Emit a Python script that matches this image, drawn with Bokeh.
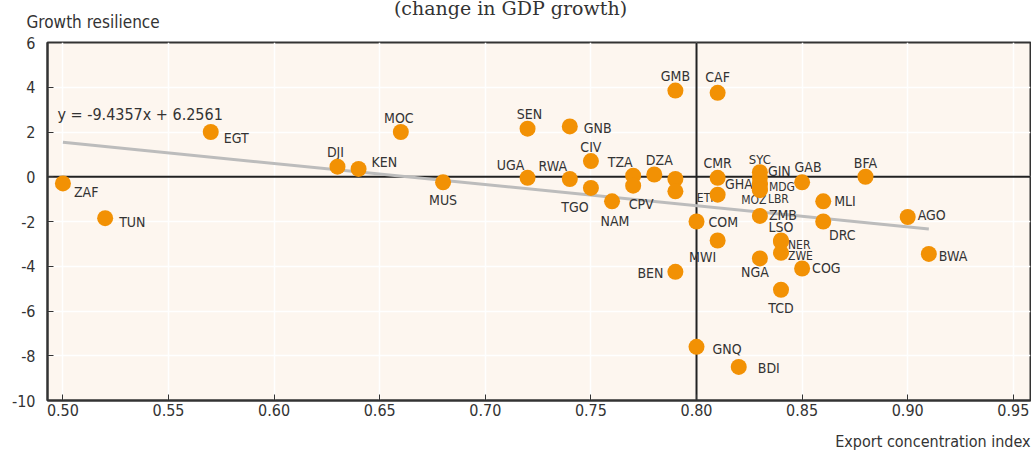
from bokeh.plotting import figure
from bokeh.models import ColumnDataSource, Span, Label, NumeralTickFormatter, FixedTicker, Range1d
from bokeh.core.properties import value
from bokeh.embed import file_html
from bokeh.resources import INLINE

# ---- data ----
countries = ["ZAF", "TUN", "EGT", "DJI", "KEN", "MOC", "MUS", "SEN", "UGA", "GNB",
             "RWA", "CIV", "TGO", "NAM", "TZA", "CPV", "DZA", "", "", "GMB",
             "CAF", "CMR", "ETH", "COM", "MWI", "BEN", "SYC", "GIN", "GHA", "MDG",
             "MOZ", "LBR", "GAB", "BFA", "MLI", "DRC", "AGO", "BWA", "ZMB", "LSO",
             "NER", "ZWE", "NGA", "COG", "TCD", "GNQ", "BDI"]
export_conc = [0.50, 0.52, 0.57, 0.63, 0.64, 0.66, 0.68, 0.72, 0.72, 0.74,
               0.74, 0.75, 0.75, 0.76, 0.77, 0.77, 0.78, 0.79, 0.79, 0.79,
               0.81, 0.81, 0.81, 0.80, 0.81, 0.79, 0.83, 0.83, 0.83, 0.83,
               0.83, 0.83, 0.85, 0.88, 0.86, 0.86, 0.90, 0.91, 0.83, 0.84,
               0.84, 0.84, 0.83, 0.85, 0.84, 0.80, 0.82]
growth_res = [-0.3, -1.85, 2.0, 0.45, 0.35, 2.0, -0.25, 2.15, -0.05, 2.25,
              -0.1, 0.7, -0.5, -1.1, 0.05, -0.4, 0.1, -0.1, -0.65, 3.85,
              3.75, -0.05, -0.8, -2.0, -2.85, -4.25, 0.2, -0.05, -0.3, -0.35,
              -0.55, -0.6, -0.25, 0.0, -1.1, -2.0, -1.8, -3.45, -1.75, -2.85,
              -2.9, -3.4, -3.65, -4.1, -5.05, -7.6, -8.5]
x_ticks = [0.50, 0.55, 0.60, 0.65, 0.70, 0.75, 0.80, 0.85, 0.90, 0.95]
y_ticks = [-10, -8, -6, -4, -2, 0, 2, 4, 6]
trend_slope = -9.4357
trend_intercept = 6.2561
trend_x = [0.50, 0.91]
equation_text = "y = -9.4357x + 6.2561"
title_text = "(change in GDP growth)"
y_title = "Growth resilience"
x_title = "Export concentration index"

# ---- label placement (screen offsets, style only) ----
label_style = {
    "ZAF": (11, 9, "left", 14), "TUN": (14, 4, "left", 14), "EGT": (13, 6, "left", 14),
    "DJI": (-2, -15, "center", 14), "KEN": (13, -7, "left", 14), "MOC": (-2, -14, "center", 14),
    "MUS": (0, 18, "center", 14), "SEN": (2, -15, "center", 14), "UGA": (-17, -13, "center", 14),
    "GNB": (14, 2, "left", 14), "RWA": (-17, -13, "center", 14), "CIV": (0, -14, "center", 14),
    "TGO": (-16, 19, "center", 14), "NAM": (3, 20, "center", 14), "TZA": (-13, -14, "center", 14),
    "CPV": (8, 18, "center", 14), "DZA": (5, -15, "center", 14), "GMB": (0, -15, "center", 14),
    "CAF": (0, -16, "center", 14), "CMR": (0, -15, "center", 14), "ETH": (-10, 3, "center", 12),
    "COM": (12, 0, "left", 14), "MWI": (-15, 16, "center", 14), "BEN": (-12, 1, "right", 14),
    "SYC": (0, -13, "center", 13), "GIN": (8, -7, "left", 14), "GHA": (-7, 1, "right", 14),
    "MDG": (9, 2, "left", 12), "MOZ": (-6, 11, "center", 12), "LBR": (8, 9, "left", 12),
    "GAB": (6, -15, "center", 14), "BFA": (0, -14, "center", 14), "MLI": (11, 0, "left", 14),
    "DRC": (19, 13, "center", 14), "AGO": (10, -2, "left", 14), "BWA": (10, 2, "left", 14),
    "ZMB": (9, -1, "left", 14), "LSO": (0, -14, "center", 14), "NER": (7, 3, "left", 12),
    "ZWE": (7, 3, "left", 12), "NGA": (-5, 14, "center", 14), "COG": (10, 0, "left", 14),
    "TCD": (0, 18, "center", 14), "GNQ": (16, 2, "left", 14), "BDI": (19, 1, "left", 14),
}

FONT = "DejaVu Sans Condensed, Roboto"
TEXT_COL = "#333333"
BG = "#fdf6ef"
ORANGE = "#f29104"

dx, dy, al, fs = [], [], [], []
for c in countries:
    s = label_style.get(c, (0, 0, "center", 14))
    dx.append(s[0]); dy.append(s[1]); al.append(s[2]); fs.append(f"{s[3]}px")

src = ColumnDataSource(dict(x=export_conc, y=growth_res, name=countries,
                            dx=dx, dy=dy, al=al, fs=fs))

PX_PER_X = 2112.0
x0 = 0.4927
x1 = x0 + 983 / PX_PER_X
p = figure(width=1031, height=451, output_backend="svg", toolbar_location=None,
           x_range=Range1d(x0, x1), y_range=Range1d(-10, 6),
           min_border_left=47, min_border_right=1, min_border_top=41, min_border_bottom=51)
p.background_fill_color = BG
p.border_fill_color = "white"
p.outline_line_color = "#333333"
p.outline_line_width = 2

for ax in (p.xaxis, p.yaxis):
    ax.axis_line_color = "#333333"
    ax.axis_line_width = 2
    ax.major_tick_in = 6
    ax.major_tick_out = 0
    ax.minor_tick_line_color = None
    ax.major_tick_line_color = "#333333"
    ax.major_label_text_font = FONT
    ax.major_label_text_font_size = "16px"
    ax.major_label_text_color = TEXT_COL

p.xaxis.ticker = FixedTicker(ticks=x_ticks)
p.xaxis.formatter = NumeralTickFormatter(format="0.00")
p.xaxis.major_label_standoff = 3
p.yaxis.ticker = FixedTicker(ticks=y_ticks)
p.yaxis.major_label_overrides = {t: str(t) for t in y_ticks}
p.yaxis.major_label_standoff = 12

p.xgrid.ticker = FixedTicker(ticks=x_ticks)
p.ygrid.ticker = FixedTicker(ticks=y_ticks)
for g in (p.xgrid, p.ygrid):
    g.grid_line_color = "white"
    g.grid_line_width = 1.5

p.add_layout(Span(location=0.8, dimension="height", line_color="#222222", line_width=2, level="underlay"))
p.add_layout(Span(location=0, dimension="width", line_color="#222222", line_width=2, level="underlay"))

trend_y = [trend_slope * v + trend_intercept for v in trend_x]
p.line(trend_x, trend_y, line_color="#bcbcbc", line_width=3)

p.text("x", "y", text="name", source=src, x_offset="dx", y_offset="dy",
       text_align="al", text_baseline="middle", text_font=value(FONT),
       text_font_size="fs", text_color=TEXT_COL)
p.scatter("x", "y", source=src, size=16, fill_color=ORANGE, line_color=None)


def px_to_x(px):
    return x0 + (px - 47) / PX_PER_X


def py_to_y(py):
    return 6 - (py - 41) / 22.4375


p.add_layout(Label(x=px_to_x(57), y=py_to_y(113), text=equation_text, text_font=FONT,
                   text_font_size="16px", text_color=TEXT_COL, text_baseline="middle"))

# texts outside the frame, placed in side panels
p.add_layout(Label(x=px_to_x(26), y=py_to_y(20), text=y_title, text_font=FONT,
                   text_font_size="17px", text_color=TEXT_COL, text_baseline="middle"), "above")
p.add_layout(Label(x=px_to_x(510), y=py_to_y(17), text=title_text, text_font="DejaVu Serif",
                   text_font_size="19px", text_color=TEXT_COL, text_baseline="bottom",
                   text_align="center"), "above")
p.add_layout(Label(x=px_to_x(1030), y=py_to_y(441), text=x_title, text_font=FONT,
                   text_font_size="16px", text_color=TEXT_COL, text_baseline="middle",
                   text_align="right"), "below")

open("out.html", "w").write(file_html(p, INLINE))
